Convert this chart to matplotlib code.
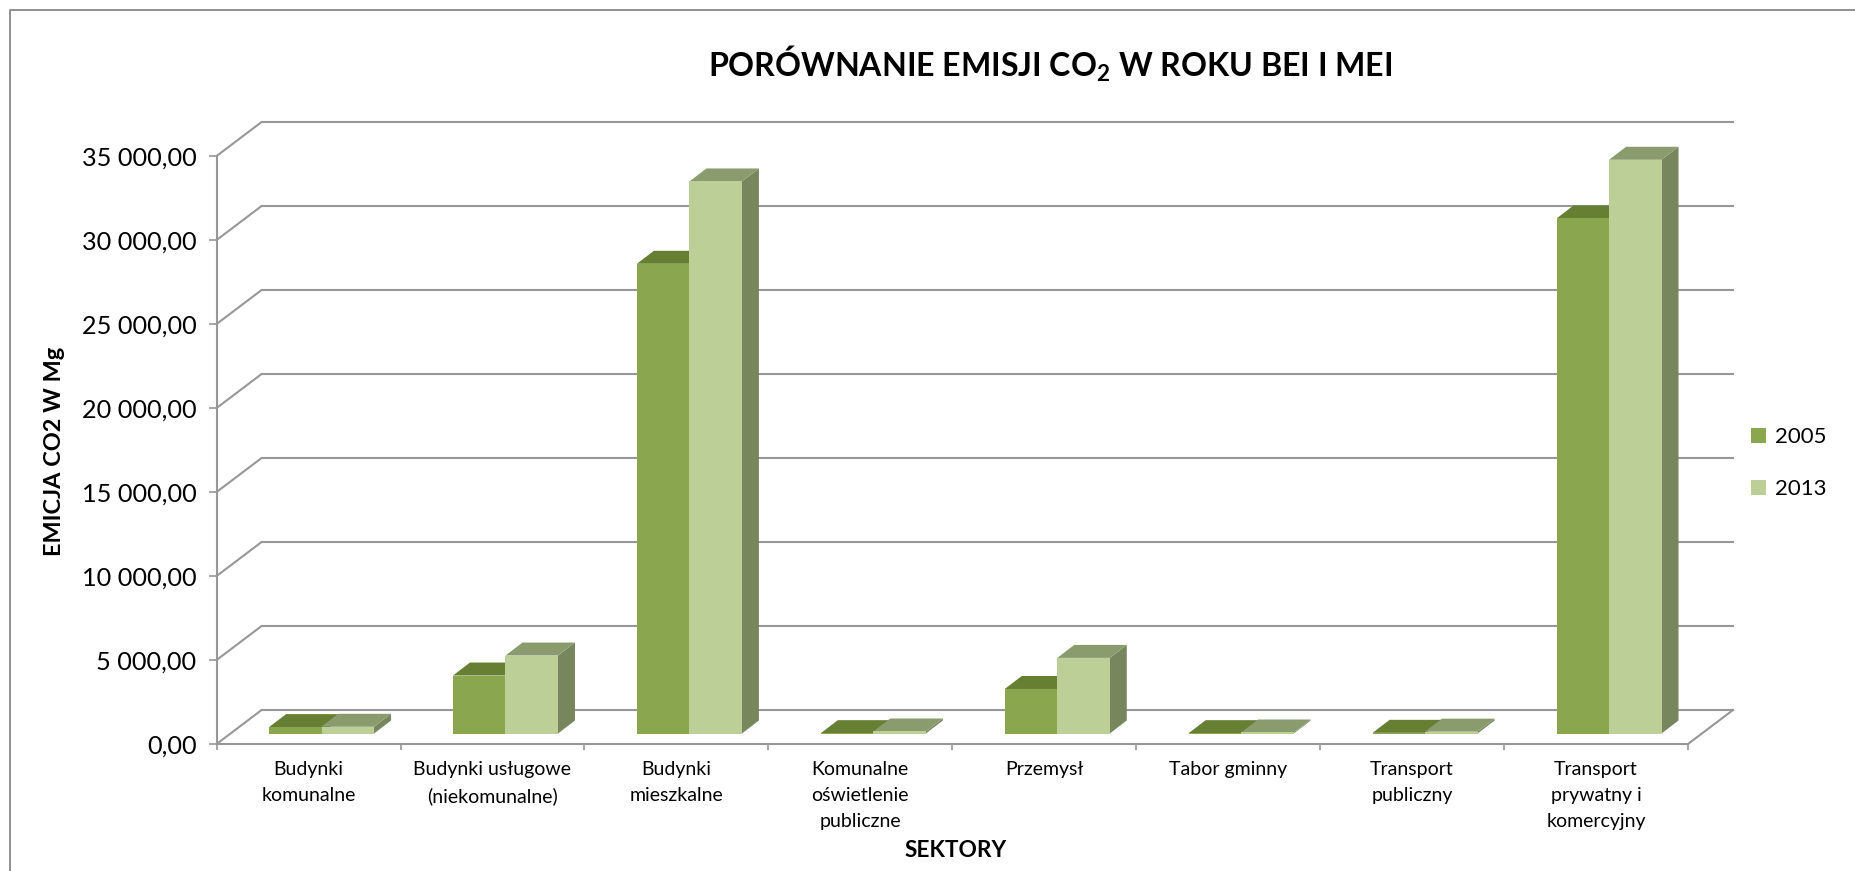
import matplotlib
matplotlib.use("Agg")
import matplotlib.pyplot as plt
from matplotlib.lines import Line2D
from matplotlib.patches import Polygon
from matplotlib.ticker import FuncFormatter

plt.rcParams['font.family'] = ['Lato', 'DejaVu Sans']
plt.rcParams['mathtext.fontset'] = 'custom'
plt.rcParams['mathtext.bf'] = 'Lato:bold'
plt.rcParams['mathtext.rm'] = 'Lato'

categories = ["Budynki\nkomunalne", "Budynki usługowe\n(niekomunalne)", "Budynki\nmieszkalne",
              "Komunalne\noświetlenie\npubliczne", "Przemysł", "Tabor gminny",
              "Transport\npubliczny", "Transport\nprywatny i\nkomercyjny"]
values_2005 = [380, 3450, 27960, 20, 2650, 20, 40, 30655]
values_2013 = [400, 4640, 32860, 120, 4500, 60, 110, 34150]
yticks = [0, 5000, 10000, 15000, 20000, 25000, 30000, 35000]

W, H = 1856, 871
AX_L, AX_R, AX_TOP, AX_BOT = 216.6, 1688, 156, 744
GRID = '#979797'
C05, C13 = '#8AA64F', '#BBCF96'
TOP05, TOP13 = '#667F33', '#8A9C6E'
SIDE05, SIDE13 = '#5F7235', '#78865E'

fig = plt.figure(figsize=(W / 100, H / 100), dpi=100, facecolor='white')
ax = fig.add_axes([AX_L / W, 1 - AX_BOT / H, (AX_R - AX_L) / W, (AX_BOT - AX_TOP) / H])
ax.set_xlim(0, 8)
ax.set_ylim(0, 35000)

px = 8 / (AX_R - AX_L)
py = 35000 / (AX_BOT - AX_TOP)

# back wall, floor edges
bx, by = 45 * px, 34 * py
for v in yticks:
    ax.plot([0, bx, 8 + bx], [v, v + by, v + by], color=GRID, lw=1.5, clip_on=False, zorder=1,
            solid_joinstyle='miter')
ax.plot([8, 8 + bx], [0, by], color=GRID, lw=1.5, clip_on=False, zorder=1)

# bars: the front plane sits part way along the floor depth
ox, oy = 13 * px, 10.5 * py
dx, dy = 17 * px, 13 * py
w = 52.5 * px
centres = [i + 0.5 + ox for i in range(8)]


def draw(xs, vals, col, top, side, label):
    bars = ax.bar(xs, vals, w, bottom=oy, color=col, align='edge', linewidth=0, zorder=3, label=label)
    for x, v in zip(xs, vals):
        y1 = oy + v
        ax.add_patch(Polygon([(x + w, oy), (x + w + dx, oy + dy), (x + w + dx, y1 + dy), (x + w, y1)],
                             closed=True, fc=side, ec='none', zorder=2.5, clip_on=False))
        ax.add_patch(Polygon([(x, y1), (x + dx, y1 + dy), (x + w + dx, y1 + dy), (x + w, y1)],
                             closed=True, fc=top, ec='none', zorder=2.6, clip_on=False))
    return bars


draw([c - w for c in centres], values_2005, C05, TOP05, SIDE05, '2005')
draw(centres, values_2013, C13, TOP13, SIDE13, '2013')

for s in ('top', 'right'):
    ax.spines[s].set_visible(False)
for s in ('left', 'bottom'):
    ax.spines[s].set_color(GRID)
    ax.spines[s].set_linewidth(1.5)
ax.patch.set_alpha(0)

ax.set_yticks(yticks)
ax.yaxis.set_major_formatter(FuncFormatter(lambda v, _: f"{int(v):,}".replace(',', ' ') + ",00"))
ax.tick_params(axis='y', length=5.5, width=1.2, color=GRID, labelsize=18.2, pad=9)
ax.set_xticks(range(9))
ax.set_xticklabels([])
ax.set_xticks([i + 0.5 for i in range(8)], categories, minor=True)
ax.tick_params(axis='x', which='major', length=4.5, width=1.2, color=GRID)
ax.tick_params(axis='x', which='minor', length=0, labelsize=14, pad=12.5)
for t in ax.get_xticklabels(minor=True):
    t.set_linespacing(1.62)

# chart area border (top and left only are visible)
fig.add_artist(Line2D([10 / W, 10 / W, 1], [0, 1 - 10 / H, 1 - 10 / H], color='#8f8f8f', lw=1.4))

fig.text(1050.5 / W, 1 - 76.5 / H, r"PORÓWNANIE EMISJI CO$_{\mathbf{2}}$ W ROKU BEI I MEI",
         ha='center', va='baseline', fontsize=23.1, fontweight='bold', color='black')
fig.text(956 / W, 1 - 850 / H, "SEKTORY", ha='center', va='center', fontsize=16.3, fontweight='bold')
fig.text(55 / W, 1 - 451 / H, "EMICJA CO2 W Mg", rotation=90, ha='center', va='center',
         fontsize=16.9, fontweight='bold')

fig.legend(loc='upper left', bbox_to_anchor=(1751 / W, 1 - 427 / H), frameon=False, fontsize=16,
           handlelength=0.68, handleheight=0.68, handletextpad=0.4, labelspacing=1.46,
           borderpad=0, borderaxespad=0)

fig.savefig('out.png', dpi=100)
